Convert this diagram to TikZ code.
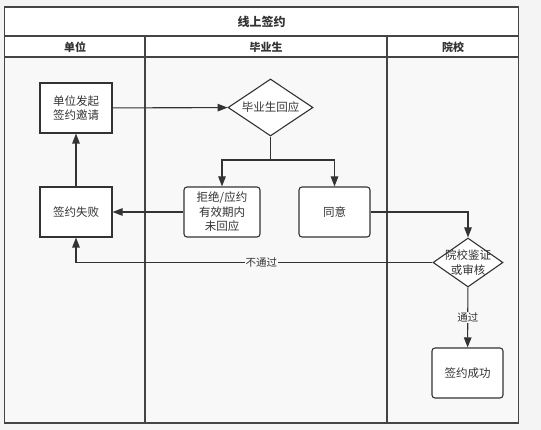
\documentclass[tikz,border=0pt]{standalone}
\usepackage{fontspec}
\setmainfont{Noto Sans CJK SC}
\usetikzlibrary{shapes.geometric, positioning, arrows.meta}
\definecolor{lineGray}{RGB}{51,51,51}
\definecolor{frameGray}{RGB}{68,68,68}
\definecolor{laneGray}{RGB}{248,248,248}
\definecolor{pageGray}{RGB}{244,244,244}
\newcommand{\boxfont}{\fontsize{11.5}{14.5}\selectfont}
\tikzset{
  process/.style={rectangle, minimum width=72pt, minimum height=50pt, inner sep=0pt, align=center, draw=lineGray, line width=1.1pt, fill=white, font=\boxfont, text=lineGray},
  roundproc/.style={process, rounded corners=3pt},
  decision/.style={diamond, minimum width=#1, inner sep=0pt, draw=lineGray, line width=1.1pt, fill=white},
  dlabel/.style={label={[align=center, font=\boxfont, text=lineGray]center:#1}},
  edgelabel/.style={fill=laneGray, inner sep=1pt, font=\fontsize{10.5}{12}\selectfont, text=lineGray},
  arrow/.style={line width=1.1pt, draw=lineGray, -{Triangle[length=10pt, width=7.5pt]}},
  laneline/.style={line width=1.5pt, draw=frameGray},
  header/.style={font=\fontsize{11}{13}\bfseries, text=lineGray}
}

\begin{document}
\begin{tikzpicture}[x=1pt, y=-1pt]
            \useasboundingbox (0,0) rectangle (541,430);
            % Fondo y carriles
            \fill[pageGray] (0,0) rectangle (541,430);
            \fill[white] (4.5,7) rectangle (518.5,57);
            \fill[laneGray] (4.5,57) rectangle (518.5,423);
            \draw[laneline] (4.5,7) rectangle (518.5,423);
            \draw[laneline] (4.5,36) -- (518.5,36);
            \draw[laneline] (4.5,57) -- (518.5,57);
            \draw[laneline] (145,36) -- (145,423);
            \draw[laneline] (387,36) -- (387,423);

            % Cabeceras
            \node[header, font=\fontsize{12}{14}\bfseries] (title) at (261.5,22) {线上签约};
            \node[header] (hUnit) at (75,47) {单位};
            \node[header] (hGrad) at (266,47) {毕业生};
            \node[header] (hSchool) at (453,47) {院校};

            % Nodos del proceso
            \node[process] (invite) at (76,108) {单位发起\\签约邀请};
            \node[process] (fail) at (76,212) {签约失败};
            \node[decision=85pt, minimum height=57pt, dlabel={毕业生回应}] (reply) at (270.5,107.5) {};
            \node[roundproc, minimum width=76pt] (refuse) at (222,212) {拒绝/应约\\有效期内\\未回应};
            \node[roundproc, minimum width=71pt] (agree) at (334.5,212) {同意};
            \node[decision=70pt, minimum height=49pt, dlabel={院校鉴证\\或审核}] (check) at (468,262.5) {};
            \node[roundproc, minimum width=71pt] (success) at (467.5,373) {签约成功};

            % Flechas
            \coordinate (fork) at (270.5,160);
            \draw[arrow] (invite) -- (reply);
            \draw[line width=1.1pt, draw=lineGray] (reply.south) -- (fork);
            \draw[arrow] (fork) -| (refuse.north);
            \draw[arrow] (fork) -| (agree.north);
            \draw[arrow] (refuse) -- (fail);
            \draw[arrow] (fail) -- (invite);
            \draw[arrow] (agree.east) -| (check.north);
            \draw[arrow] (check.west) -| node[edgelabel, pos=0.24] (noPass) {不通过} (fail.south);
            \draw[arrow] (check) -- node[edgelabel] (pass) {通过} (success);
        \end{tikzpicture}
\end{document}
